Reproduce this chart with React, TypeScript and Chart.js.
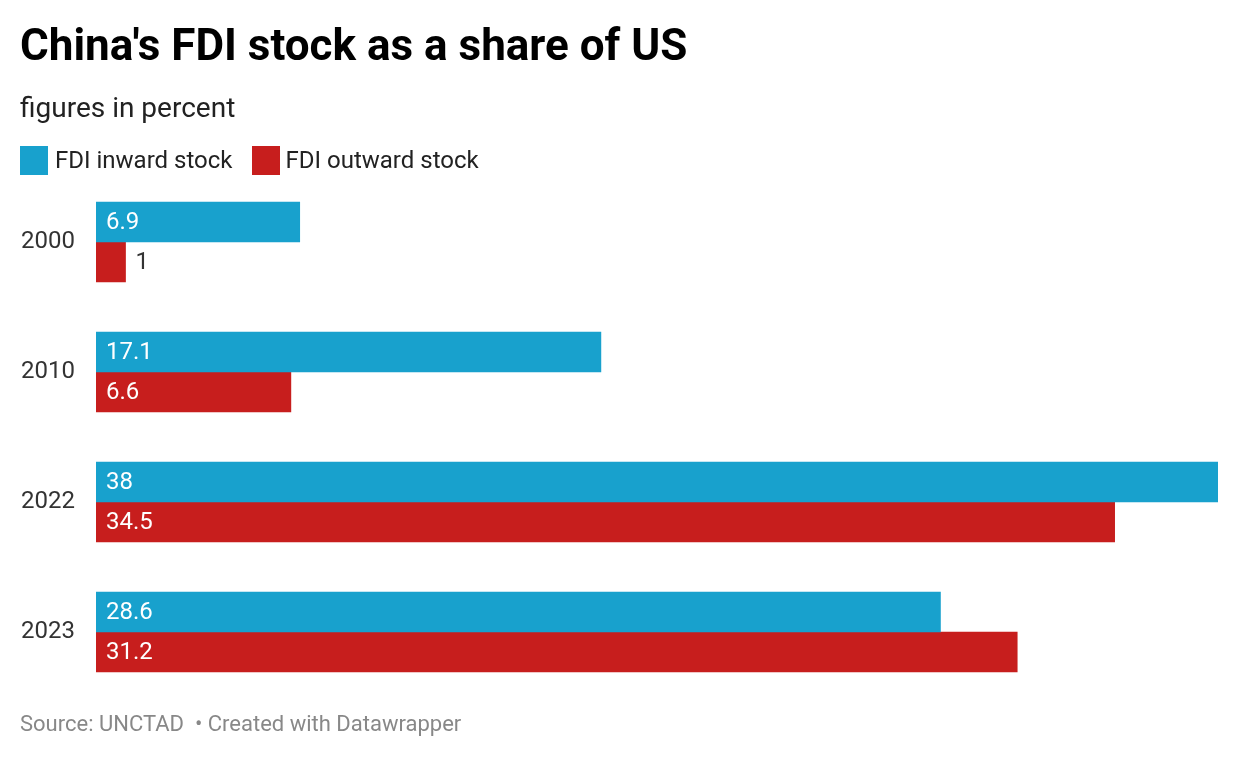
import React, { useEffect, useRef } from "react";
import { Chart, registerables } from "chart.js";

Chart.register(...registerables);

const years = ["2000", "2010", "2022", "2023"];
const inward = [6.9, 17.1, 38, 28.6];
const outward = [1, 6.6, 34.5, 31.2];
const seriesNames = ["FDI inward stock", "FDI outward stock"];
const seriesColors = ["#18a1cd", "#c71e1d"];

const FONT = "Roboto, 'Noto Sans', sans-serif";

const labelPlugin = {
  id: "barLabels",
  afterDatasetsDraw(chart: any) {
    const ctx = chart.ctx;
    ctx.save();
    ctx.font = `24px ${FONT}`;
    ctx.textBaseline = "middle";
    ctx.textAlign = "left";
    chart.data.datasets.forEach((ds: any, di: number) => {
      const meta = chart.getDatasetMeta(di);
      meta.data.forEach((bar: any, i: number) => {
        const v = ds.data[i];
        const txt = String(v);
        const w = ctx.measureText(txt).width;
        const barW = bar.x - bar.base;
        if (w + 20 <= barW) {
          ctx.fillStyle = "#ffffff";
          ctx.fillText(txt, bar.base + 10, bar.y + 1);
        } else {
          ctx.fillStyle = "#333333";
          ctx.fillText(txt, bar.x + 10, bar.y + 1);
        }
      });
    });
    ctx.restore();
  },
};

export default function App() {
  const ref = useRef<HTMLCanvasElement>(null);
  useEffect(() => {
    if (!ref.current) return;
    const chart = new Chart(ref.current, {
      type: "bar",
      data: {
        labels: years,
        datasets: [
          { label: seriesNames[0], data: inward, backgroundColor: seriesColors[0], barThickness: 40 },
          { label: seriesNames[1], data: outward, backgroundColor: seriesColors[1], barThickness: 40 },
        ],
      },
      options: {
        indexAxis: "y",
        animation: false,
        responsive: false,
        maintainAspectRatio: false,
        layout: { padding: { left: 0, right: 22, top: 177, bottom: 63 } },
        plugins: { legend: { display: false }, tooltip: { enabled: false }, title: { display: false } },
        scales: {
          x: { display: false, min: 0, max: 38 },
          y: {
            grid: { display: false, drawTicks: false },
            border: { display: false },
            ticks: { color: "#333333", font: { family: FONT, size: 24 }, padding: 21 },
            afterFit(scale: any) {
              scale.width = 96;
            },
          },
        },
      },
      plugins: [labelPlugin],
    });
    return () => chart.destroy();
  }, []);

  return (
    <div style={{ position: "fixed", left: 0, top: 0, width: 1240, height: 760, background: "#fff", fontFamily: FONT }}>
      <canvas ref={ref} width={1240} height={760} style={{ position: "absolute", left: 0, top: 0 }} />
      <div style={{ position: "absolute", left: 20, top: 23, fontSize: 44, fontWeight: 700, lineHeight: "44px", color: "#000", whiteSpace: "nowrap" }}>
        China's FDI stock as a share of US
      </div>
      <div style={{ position: "absolute", left: 20, top: 94, fontSize: 28, lineHeight: "28px", color: "#222", whiteSpace: "nowrap" }}>
        figures in percent
      </div>
      <div style={{ position: "absolute", left: 20, top: 146, display: "flex", alignItems: "center", fontSize: 24, lineHeight: "29px", color: "#222", whiteSpace: "nowrap" }}>
        <span style={{ display: "inline-block", width: 28, height: 29, background: seriesColors[0], marginRight: 7 }} />
        <span style={{ marginRight: 19 }}>{seriesNames[0]}</span>
        <span style={{ display: "inline-block", width: 28, height: 29, background: seriesColors[1], marginRight: 6 }} />
        <span>{seriesNames[1]}</span>
      </div>
      <div style={{ position: "absolute", left: 20, top: 712, fontSize: 22, lineHeight: "24px", color: "#888", whiteSpace: "pre" }}>
        {"Source: UNCTAD  • Created with Datawrapper"}
      </div>
    </div>
  );
}
